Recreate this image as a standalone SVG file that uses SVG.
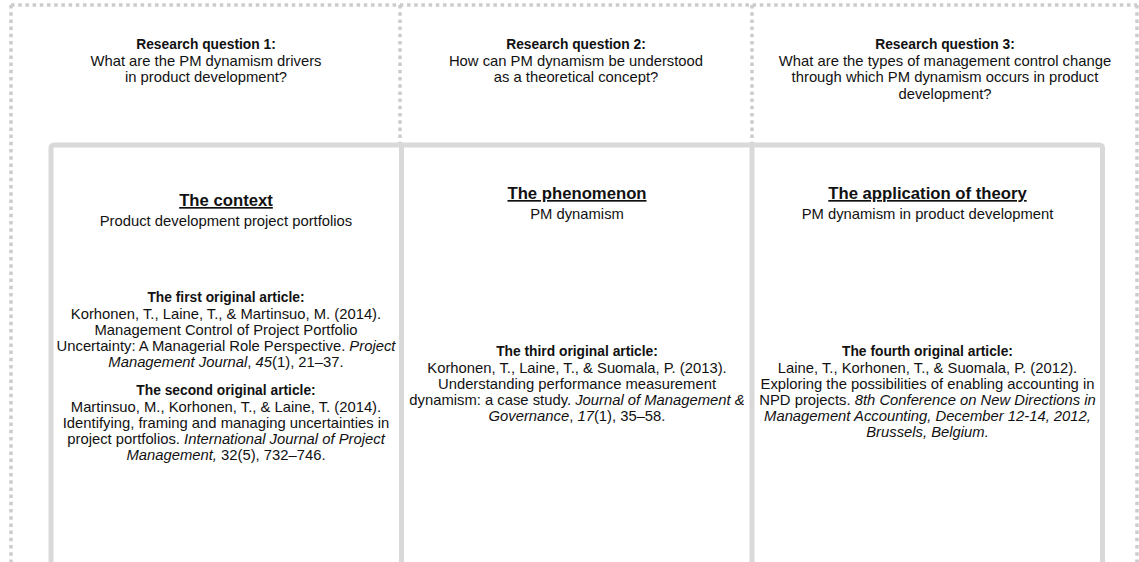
<svg xmlns="http://www.w3.org/2000/svg" width="1139" height="562" viewBox="0 0 1139 562">
<style>
text{font-family:"Liberation Sans",Arial,sans-serif;fill:#111;text-anchor:middle;font-size:14.8px}
.qb{font-weight:bold;font-size:13.8px}
.hd{font-weight:bold;font-size:16.7px;text-decoration:underline}
.ab{font-weight:bold;font-size:13.8px}
.i{font-style:italic}
.dot{fill:none;stroke:#cccccc;stroke-width:3.5;stroke-dasharray:3.5 3.7}
.frame{fill:none;stroke:#d9d9d9;stroke-width:5}
</style>
<rect width="1139" height="562" fill="#fff"/>
<g id="question-frame">
<line class="dot" x1="11" y1="5" x2="1137" y2="5"/>
<line class="dot" x1="11" y1="5" x2="11" y2="562"/>
<line class="dot" x1="1137" y1="5" x2="1137" y2="562"/>
<line class="dot" x1="400" y1="5" x2="400" y2="145"/>
<line class="dot" x1="752" y1="5" x2="752" y2="145"/>
</g>
<g id="article-frame">
<rect class="frame" x="51" y="145" width="1051.5" height="460" rx="3"/>
<line class="frame" x1="401.5" y1="145" x2="401.5" y2="562"/>
<line class="frame" x1="752" y1="145" x2="752" y2="562"/>
</g>
<g id="connectors"/>
<g id="q1">
<text class="qb" x="206" y="48.5">Research question 1:</text>
<text x="206" y="65.5">What are the PM dynamism drivers</text>
<text x="206" y="82">in product development?</text>
</g>
<g id="q2">
<text class="qb" x="576" y="48.5">Research question 2:</text>
<text x="576" y="65.5">How can PM dynamism be understood</text>
<text x="576" y="82">as a theoretical concept?</text>
</g>
<g id="q3">
<text class="qb" x="945" y="48.5">Research question 3:</text>
<text x="945" y="65.5">What are the types of management control change</text>
<text x="945" y="82">through which PM dynamism occurs in product</text>
<text x="945" y="98.5">development?</text>
</g>
<g id="col1">
<text class="hd" x="226" y="206">The context</text>
<text x="226" y="226">Product development project portfolios</text>
<text class="ab" x="226" y="302">The first original article:</text>
<text x="226" y="318.5">Korhonen, T., Laine, T., &amp; Martinsuo, M. (2014).</text>
<text x="226" y="334.5">Management Control of Project Portfolio</text>
<text x="226" y="350.5">Uncertainty: A Managerial Role Perspective. <tspan class="i">Project</tspan></text>
<text x="226" y="367"><tspan class="i">Management Journal</tspan>, <tspan class="i">45</tspan>(1), 21–37.</text>
<text class="ab" x="226" y="395">The second original article:</text>
<text x="226" y="411.5">Martinsuo, M., Korhonen, T., &amp; Laine, T. (2014).</text>
<text x="226" y="427.5">Identifying, framing and managing uncertainties in</text>
<text x="226" y="444">project portfolios. <tspan class="i">International Journal of Project</tspan></text>
<text x="226" y="460"><tspan class="i">Management,</tspan> 32(5), 732–746.</text>
</g>
<g id="col2">
<text class="hd" x="577" y="199">The phenomenon</text>
<text x="577" y="219">PM dynamism</text>
<text class="ab" x="577" y="356">The third original article:</text>
<text x="577" y="372.5">Korhonen, T., Laine, T., &amp; Suomala, P. (2013).</text>
<text x="577" y="388.5">Understanding performance measurement</text>
<text x="577" y="404.5">dynamism: a case study. <tspan class="i">Journal of Management &amp;</tspan></text>
<text x="577" y="421"><tspan class="i">Governance</tspan>, <tspan class="i">17</tspan>(1), 35–58.</text>
</g>
<g id="col3">
<text class="hd" x="927.5" y="199">The application of theory</text>
<text x="927.5" y="219">PM dynamism in product development</text>
<text class="ab" x="927.5" y="356">The fourth original article:</text>
<text x="927.5" y="372.5">Laine, T., Korhonen, T., &amp; Suomala, P. (2012).</text>
<text x="927.5" y="388.5">Exploring the possibilities of enabling accounting in</text>
<text x="927.5" y="404.5">NPD projects. <tspan class="i">8th Conference on New Directions in</tspan></text>
<text x="927.5" y="421"><tspan class="i">Management Accounting, December 12-14, 2012,</tspan></text>
<text x="927.5" y="437"><tspan class="i">Brussels, Belgium.</tspan></text>
</g>
</svg>
